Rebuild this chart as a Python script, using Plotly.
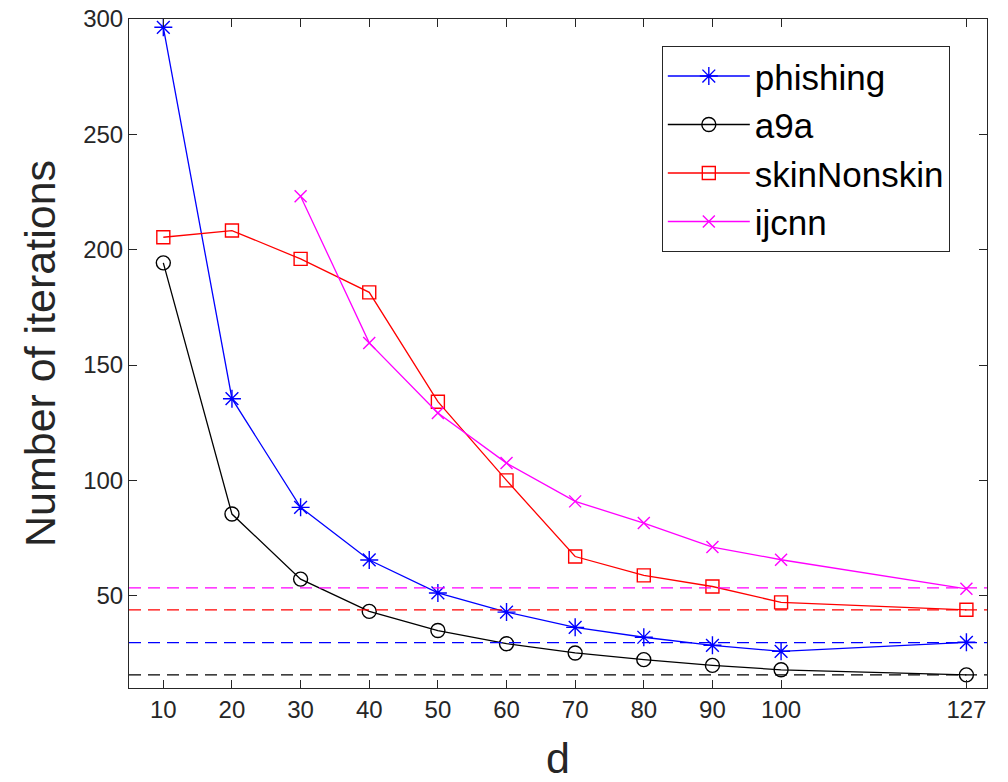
import plotly.graph_objects as go

d_values = [10, 20, 30, 40, 50, 60, 70, 80, 90, 100, 127]
d_ijcnn = [30, 40, 50, 60, 70, 80, 90, 100, 127]

phishing = [296.4, 135.4, 88.3, 65.5, 51.2, 42.9, 36.3, 32.0, 28.5, 25.9, 29.8]
a9a = [194.3, 85.4, 57.2, 43.2, 34.9, 29.2, 25.2, 22.3, 19.8, 17.9, 15.7]
skin = [205.4, 208.3, 196.0, 181.5, 134.1, 100.0, 67.0, 58.8, 54.0, 47.1, 43.9]
ijcnn = [223.2, 159.6, 129.2, 107.5, 90.9, 81.5, 71.1, 65.6, 53.0]

# horizontal dashed reference levels
ref_levels = {"phishing": 29.7, "a9a": 15.7, "skinNonskin": 43.9, "ijcnn": 53.4}

tick_vals = [10, 20, 30, 40, 50, 60, 70, 80, 90, 100, 127]
tick_text = ["10", "20", "30", "40", "50", "60", "70", "80", "90", "100", "127"]
y_ticks = [50, 100, 150, 200, 250, 300]

colors = {"phishing": "#0000FF", "a9a": "#000000", "skinNonskin": "#FF0000", "ijcnn": "#FF00FF"}

FONT = "Liberation Sans, Arial, Helvetica, sans-serif"
AX = "#262626"

fig = go.Figure()

series = [
    ("phishing", d_values, phishing, "asterisk-open", 15),
    ("a9a", d_values, a9a, "circle-open", 14),
    ("skinNonskin", d_values, skin, "square-open", 13),
    ("ijcnn", d_ijcnn, ijcnn, "x-thin-open", 12),
]

for name, xs, ys, sym, sz in series:
    c = colors[name]
    fig.add_trace(go.Scatter(
        x=xs, y=ys, mode="lines+markers", name=name,
        line=dict(color=c, width=1.3),
        marker=dict(symbol=sym, size=sz, color=c, line=dict(color=c, width=1.4)),
    ))

for name, lvl in ref_levels.items():
    fig.add_hline(y=lvl, line=dict(color=colors[name], width=1.3, dash="12px,7px"), layer="above")

fig.update_layout(
    width=1008, height=782,
    margin=dict(l=129, r=21, t=19, b=94, autoexpand=False),
    paper_bgcolor="white", plot_bgcolor="white",
    font=dict(family=FONT, color=AX, size=24),
    showlegend=True,
    legend=dict(
        x=0.621, y=0.96, xanchor="left", yanchor="top",
        bgcolor="white", bordercolor=AX, borderwidth=1,
        font=dict(family=FONT, size=35, color="#000000"),
        itemwidth=82,
    ),
    xaxis=dict(
        range=[5, 130], tickmode="array", tickvals=tick_vals, ticktext=tick_text,
        showgrid=False, zeroline=False, automargin=False,
        showline=True, linecolor=AX, linewidth=1, mirror="ticks",
        ticks="inside", ticklen=8, tickcolor=AX, tickwidth=1,
        tickfont=dict(size=24, color=AX, family=FONT),
        title=dict(text="d", font=dict(size=43, color=AX, family=FONT), standoff=24),
    ),
    yaxis=dict(
        range=[10, 300], tickmode="array", tickvals=y_ticks,
        showgrid=False, zeroline=False, automargin=False,
        showline=True, linecolor=AX, linewidth=1, mirror="ticks",
        ticks="inside", ticklen=8, tickcolor=AX, tickwidth=1,
        tickfont=dict(size=24, color=AX, family=FONT),
        title=dict(text="Number of iterations", font=dict(size=43, color=AX, family=FONT), standoff=14),
    ),
)

fig.write_html("out.html")
